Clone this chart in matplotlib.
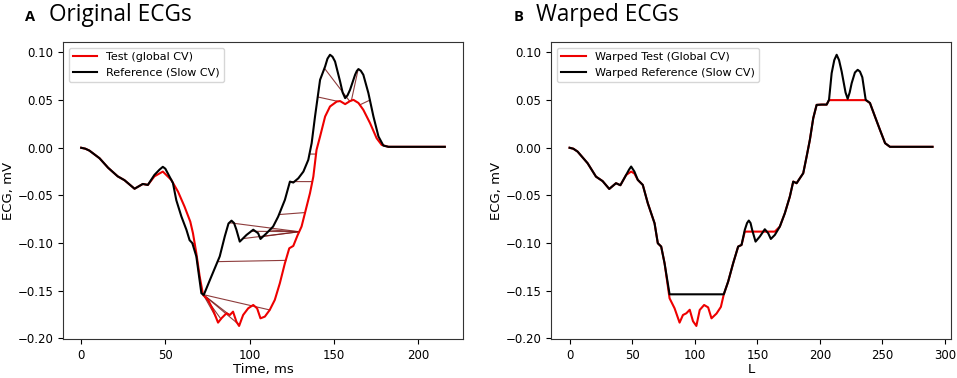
import numpy as np
import matplotlib
matplotlib.use("Agg")
import matplotlib.pyplot as plt

# ---------------- Panel A data: original ECGs ----------------
ref_t = [0, 2.5, 4.9, 10.9, 16, 21.7, 25.7, 31.7, 36.6, 39.6, 43.5, 46.5, 48.5, 50, 51.5,
         54.5, 56.5, 59.5, 62.5, 64.4, 66, 68.4, 71.4, 72.8, 76.4, 82.3, 85.3, 87.5,
         89.3, 90.8, 92.2, 94.2, 98.2, 102.2, 105.1, 106.5, 110.1, 114, 117, 121, 124,
         126, 129, 132, 134.9, 136.9, 138.9, 141.9, 144.9, 146.3, 147.8, 149.3, 150.8,
         153.8, 155.3, 156.8, 158.2, 159.7, 162.7, 163.7, 164.7, 166.1, 167.6, 170.6,
         173.6, 176.6, 179.5, 182.5, 190, 200, 216]
ref_v = [0.0, -0.001, -0.003, -0.011, -0.021, -0.030, -0.034, -0.043, -0.038, -0.039,
         -0.0285, -0.023, -0.020, -0.022, -0.027, -0.037, -0.055, -0.072, -0.086, -0.097,
         -0.100, -0.114, -0.1527, -0.1545, -0.139, -0.114, -0.093, -0.0795, -0.0765,
         -0.079, -0.086, -0.0985, -0.0915, -0.086, -0.0897, -0.0957, -0.0897, -0.0827,
         -0.0723, -0.0547, -0.0355, -0.0365, -0.032, -0.025, -0.0127, 0.0048, 0.0328,
         0.0713, 0.0853, 0.0935, 0.0976, 0.0955, 0.0905, 0.0695, 0.058, 0.0521, 0.055,
         0.0608, 0.0766, 0.0805, 0.0826, 0.0808, 0.0766, 0.0574, 0.0328, 0.0118, 0.0023,
         0.001, 0.001, 0.001, 0.001]

test_t = [0, 2.5, 4.9, 10.9, 16, 21.7, 25.7, 31.7, 36.6, 39.6, 43.5, 48.5, 53.5, 57.5,
          61.4, 64.8, 66.4, 68.4, 70.4, 72.4, 75.4, 78.3, 81.3, 83.3, 86.3, 88.3, 90.2,
          92.2, 93.8, 96.2, 99.2, 102.2, 104.5, 106.5, 109.1, 112, 115, 118, 121, 123.6,
          126, 128.5, 130.9, 132.9, 135.9, 137.9, 139.8, 141.9, 144.9, 147.8, 151.8,
          153.8, 156.8, 159.7, 161.7, 164.7, 167.6, 171.6, 175.5, 178.5, 182.5, 190, 200,
          216]
test_v = [0.0, -0.001, -0.003, -0.011, -0.021, -0.030, -0.034, -0.043, -0.038, -0.039,
          -0.030, -0.025, -0.0337, -0.046, -0.0618, -0.0775, -0.0897, -0.1107, -0.1352,
          -0.1545, -0.1597, -0.1702, -0.1835, -0.179, -0.1737, -0.1755, -0.172, -0.1825,
          -0.187, -0.1755, -0.1685, -0.165, -0.1685, -0.179, -0.1772, -0.1702, -0.1597,
          -0.1422, -0.1212, -0.1055, -0.103, -0.092, -0.0827, -0.0687, -0.0477, -0.0303,
          -0.0022, 0.0118, 0.0328, 0.0433, 0.0485, 0.049, 0.0458, 0.049, 0.0503, 0.047,
          0.0398, 0.0258, 0.010, 0.003, 0.001, 0.001, 0.001, 0.001]

# matched time pairs (reference time, test time) shown as connecting lines
match_ref_t = [66, 72.5, 72.5, 72.5, 72.5, 72.5, 72.5, 81, 88, 96, 101, 106, 112,
               117.5, 124, 135.6, 140.5, 144.5, 164.5, 171.5]
match_test_t = [67.5, 76, 80, 83, 88, 94, 112, 121.5, 129.5, 129.5, 129.5, 129.5, 129.5,
                133, 137.3, 139.5, 152.5, 159.5, 160.5, 165.5]

# ---------------- Panel B data: warped ECGs ----------------
wref_L = [0, 3, 6.4, 14.4, 21.1, 26.4, 31.7, 37.1, 40.6, 45.2, 47.5, 49.2, 51.8, 54.5,
          58.5, 62.5, 65.2, 67.9, 70.5, 73.2, 75.9, 79.9, 123.2, 126.7, 130.7, 134.7,
          137.4, 140, 141.8, 143.2, 144.6, 145.9, 148.6, 152, 156, 158.7, 160.8, 164,
          168, 172, 176, 178.7, 181.4, 184, 186.7, 189.4, 192, 194.7, 197.4, 201.4, 205.4,
          207.3, 209.4, 211.5, 213.4, 215.3, 217.4, 220.5, 222.2, 223.8, 225.4, 228,
          230.2, 232, 233.9, 236.6, 240, 244, 248, 252.1, 256, 270, 290]
wref_v = [0.0, -0.001, -0.004, -0.0162, -0.0303, -0.035, -0.0432, -0.0372, -0.0393,
          -0.0285, -0.023, -0.0197, -0.025, -0.0337, -0.039, -0.0582, -0.0687, -0.0792,
          -0.1002, -0.1037, -0.1212, -0.1538, -0.1538, -0.1405, -0.1212, -0.1037, -0.102,
          -0.0862, -0.079, -0.0764, -0.079, -0.0862, -0.0985, -0.0932, -0.0855, -0.0897,
          -0.0957, -0.0915, -0.0827, -0.0687, -0.0512, -0.0355, -0.0372, -0.032, -0.0267,
          -0.0092, 0.0083, 0.0311, 0.045, 0.0453, 0.0453, 0.0503, 0.0783, 0.092, 0.0976,
          0.092, 0.080, 0.058, 0.0514, 0.058, 0.0678, 0.079, 0.0818, 0.080, 0.074, 0.0503,
          0.047, 0.0328, 0.0188, 0.0048, 0.001, 0.001, 0.001]

wtest_L = [0, 3, 6.4, 14.4, 21.1, 26.4, 31.7, 37.1, 40.6, 45.2, 49.2, 51.8, 54.5, 58.5,
           62.5, 65.2, 67.9, 70.5, 73.2, 75.9, 79.9, 83.9, 87.9, 90.6, 93.3, 96, 98.6,
           101.3, 104, 107.5, 110.7, 113.4, 117.4, 120.9, 123.2, 126.7, 130.7, 134.7,
           137.4, 140, 164, 168, 172, 176, 178.7, 181.4, 184, 186.7, 189.4, 192, 194.7,
           197.4, 201.4, 205.4, 207.3, 236.6, 240, 244, 248, 252.1, 256, 270, 290]
wtest_v = [0.0, -0.001, -0.004, -0.0162, -0.0303, -0.035, -0.0432, -0.0372, -0.0393,
           -0.0285, -0.025, -0.027, -0.0337, -0.039, -0.0582, -0.0687, -0.0792, -0.1002,
           -0.1037, -0.1212, -0.158, -0.1685, -0.1835, -0.1755, -0.1737, -0.170, -0.182,
           -0.187, -0.1702, -0.165, -0.1675, -0.179, -0.174, -0.167, -0.154, -0.1405,
           -0.1212, -0.1037, -0.102, -0.088, -0.088, -0.0827, -0.0687, -0.0512, -0.0355,
           -0.0372, -0.032, -0.0267, -0.0092, 0.0083, 0.0311, 0.045, 0.0453, 0.0453,
           0.0500, 0.0500, 0.047, 0.0328, 0.0188, 0.0048, 0.001, 0.001, 0.001]

RED = "#ee0000"
LW = 1.5

fig = plt.figure(figsize=(9.57, 3.78), dpi=100)
axA = fig.add_axes([63 / 957, 1 - 339 / 378, 400 / 957, 297 / 378])
axB = fig.add_axes([551.3 / 957, 1 - 339 / 378, 400 / 957, 297 / 378])

# Panel A
axA.plot(test_t, test_v, color=RED, lw=LW, label="Test (global CV)", zorder=3)
axA.plot(ref_t, ref_v, color="black", lw=LW, label="Reference (Slow CV)", zorder=4)
for rt, tt in zip(match_ref_t, match_test_t):
    ry = np.interp(rt, ref_t, ref_v)
    ty = np.interp(tt, test_t, test_v)
    axA.plot([rt, tt], [ry, ty], color="#7a1a1a", lw=0.8, alpha=0.85, zorder=2)
axA.set_xlabel("Time, ms", fontsize=9.5, labelpad=1)
axA.set_ylabel("ECG, mV", fontsize=9.5, labelpad=2)
axA.legend(loc="upper left", fontsize=8, handlelength=2.2, borderaxespad=0.5)

# Panel B
axB.plot(wtest_L, wtest_v, color=RED, lw=LW, label="Warped Test (Global CV)", zorder=3)
axB.plot(wref_L, wref_v, color="black", lw=LW, label="Warped Reference (Slow CV)", zorder=4)
axB.set_xlabel("L", fontsize=9.5, labelpad=1)
axB.set_ylabel("ECG, mV", fontsize=9.5, labelpad=2)
axB.legend(loc="upper left", fontsize=8, handlelength=2.2, borderaxespad=0.5)

for ax in (axA, axB):
    ax.set_ylim(-0.2007, 0.111)
    ax.set_yticks([-0.20, -0.15, -0.10, -0.05, 0.00, 0.05, 0.10])
    ax.tick_params(labelsize=8.5, length=3.5)
    for s in ax.spines.values():
        s.set_color("#333333")
axA.set_xlim(-10.8, 226.8)
axA.set_xticks([0, 50, 100, 150, 200])
axB.set_xlim(-14.6, 305)
axB.set_xticks([0, 50, 100, 150, 200, 250, 300])

# Panel titles
fig.text(25 / 957, 1 - 21 / 378, "A", fontsize=10.5, fontweight="bold", family="Open Sans")
fig.text(49 / 957, 1 - 21 / 378, "Original ECGs", fontsize=16.3, family="Open Sans")
fig.text(514 / 957, 1 - 21 / 378, "B", fontsize=10.5, fontweight="bold", family="Open Sans")
fig.text(536 / 957, 1 - 21 / 378, "Warped ECGs", fontsize=16.3, family="Open Sans")

fig.savefig("out.png", dpi=100)
